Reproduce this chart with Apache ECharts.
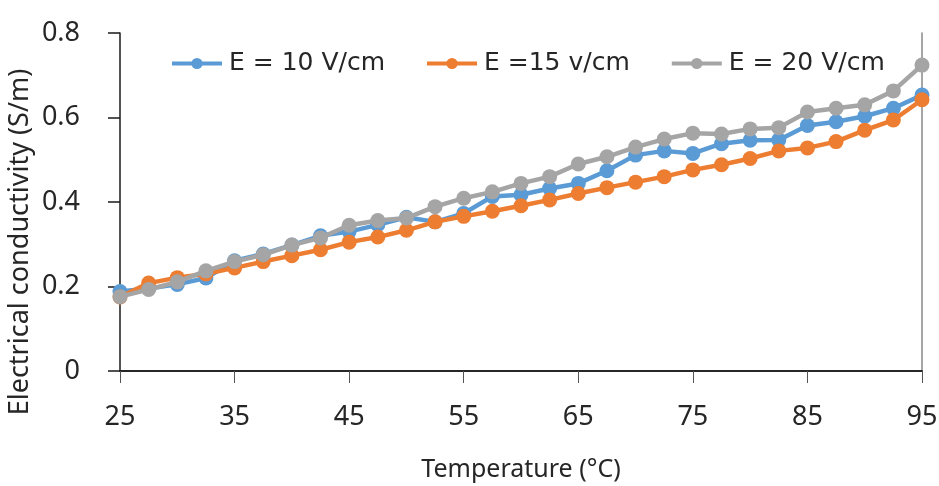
<!DOCTYPE html>
<html>
<head>
<meta charset="utf-8">
<title>Electrical conductivity vs temperature</title>
<script src="https://cdn.jsdelivr.net/npm/echarts@6/dist/echarts.min.js"></script>
<style>
  html, body { margin: 0; padding: 0; background: #ffffff; }
  #chart { width: 939px; height: 486px; }
</style>
</head>
<body>
<div id="chart"></div>
<script>
// Temperature steps (°C)
const temperatures = [25, 27.5, 30, 32.5, 35, 37.5, 40, 42.5, 45, 47.5, 50, 52.5, 55, 57.5, 60,
  62.5, 65, 67.5, 70, 72.5, 75, 77.5, 80, 82.5, 85, 87.5, 90, 92.5, 95];

// Electrical conductivity (S/m) for each field strength
const e10 = [0.188, 0.195, 0.205, 0.220, 0.261, 0.277, 0.298, 0.320, 0.330, 0.346, 0.364, 0.353,
  0.373, 0.413, 0.417, 0.432, 0.444, 0.474, 0.511, 0.521, 0.515, 0.538, 0.546, 0.547, 0.581,
  0.590, 0.603, 0.622, 0.653];
const e15 = [0.175, 0.208, 0.221, 0.230, 0.244, 0.259, 0.273, 0.287, 0.305, 0.317, 0.333, 0.353,
  0.366, 0.378, 0.391, 0.405, 0.420, 0.434, 0.447, 0.460, 0.476, 0.488, 0.503, 0.521, 0.528,
  0.543, 0.570, 0.594, 0.642];
const e20 = [0.176, 0.193, 0.211, 0.237, 0.259, 0.275, 0.298, 0.315, 0.345, 0.356, 0.362, 0.389,
  0.409, 0.424, 0.444, 0.460, 0.490, 0.507, 0.530, 0.549, 0.563, 0.561, 0.573, 0.576, 0.613,
  0.622, 0.630, 0.663, 0.724];

const seriesNames = ['E = 10 V/cm', 'E =15 v/cm', 'E = 20 V/cm'];
const seriesColors = ['#5B9BD5', '#ED7D31', '#A5A5A5'];
const seriesValues = [e10, e15, e20];

const labelFont = '"Noto Sans", "Open Sans", sans-serif';
const legendFont = '"DejaVu Sans", "Noto Sans", sans-serif';
const textColor = '#262626';

const chart = echarts.init(document.getElementById('chart'), null, { renderer: 'canvas' });

const series = seriesValues.map((vals, i) => ({
  name: seriesNames[i],
  type: 'line',
  data: temperatures.map((t, k) => [t, vals[k]]),
  symbol: 'circle',
  symbolSize: 15,
  clip: false,
  lineStyle: { color: seriesColors[i], width: 4.5 },
  itemStyle: { color: seriesColors[i] },
  emphasis: { disabled: true },
  z: 2 + i
}));

chart.setOption({
  animation: false,
  backgroundColor: '#ffffff',
  grid: {
    left: 120, right: 17, top: 33, bottom: 115,
    containLabel: false,
    outerBoundsMode: 'none'
  },
  legend: {
    left: 165,
    top: 46,
    itemWidth: 50,
    itemHeight: 14,
    itemGap: 40,
    data: seriesNames,
    lineStyle: { width: 4 },
    textStyle: { fontFamily: legendFont, fontSize: 25, color: textColor, padding: [0, 0, 0, 2] }
  },
  xAxis: [
    {
      type: 'value',
      min: 25,
      max: 95,
      interval: 10,
      position: 'bottom',
      name: 'Temperature (°C)',
      nameLocation: 'middle',
      nameGap: 86,
      nameMoveOverlap: false,
      nameTextStyle: { fontFamily: labelFont, fontSize: 25, color: textColor },
      axisLine: { show: true, lineStyle: { color: '#1a1a1a', width: 1.5 } },
      axisTick: { show: true, length: 12, lineStyle: { color: '#555555', width: 1 } },
      axisLabel: { margin: 33, fontFamily: labelFont, fontSize: 27, color: textColor },
      splitLine: { show: false }
    },
    {
      type: 'value',
      min: 25,
      max: 95,
      position: 'top',
      axisLine: { show: true, lineStyle: { color: '#1a1a1a', width: 1.5 } },
      axisTick: { show: false },
      axisLabel: { show: false },
      splitLine: { show: false }
    }
  ],
  yAxis: [
    {
      type: 'value',
      min: 0,
      max: 0.8,
      interval: 0.2,
      position: 'left',
      name: 'Electrical conductivity (S/m)',
      nameLocation: 'middle',
      nameGap: 86,
      nameMoveOverlap: false,
      nameTextStyle: {
        fontFamily: labelFont,
        fontSize: 27,
        color: textColor,
        padding: [0, 80, 0, 0]
      },
      axisLine: { show: true, lineStyle: { color: '#1a1a1a', width: 1.5 } },
      axisTick: { show: true, length: 12, lineStyle: { color: '#1a1a1a', width: 1.5 } },
      axisLabel: {
        margin: 40,
        fontFamily: labelFont,
        fontSize: 27,
        color: textColor,
        formatter: v => (v === 0 ? '0' : v.toFixed(1))
      },
      splitLine: { show: false }
    },
    {
      type: 'value',
      min: 0,
      max: 0.8,
      position: 'right',
      axisLine: { show: true, lineStyle: { color: '#888888', width: 1.5 } },
      axisTick: { show: false },
      axisLabel: { show: false },
      splitLine: { show: false }
    }
  ],
  series: series
});
</script>
</body>
</html>
